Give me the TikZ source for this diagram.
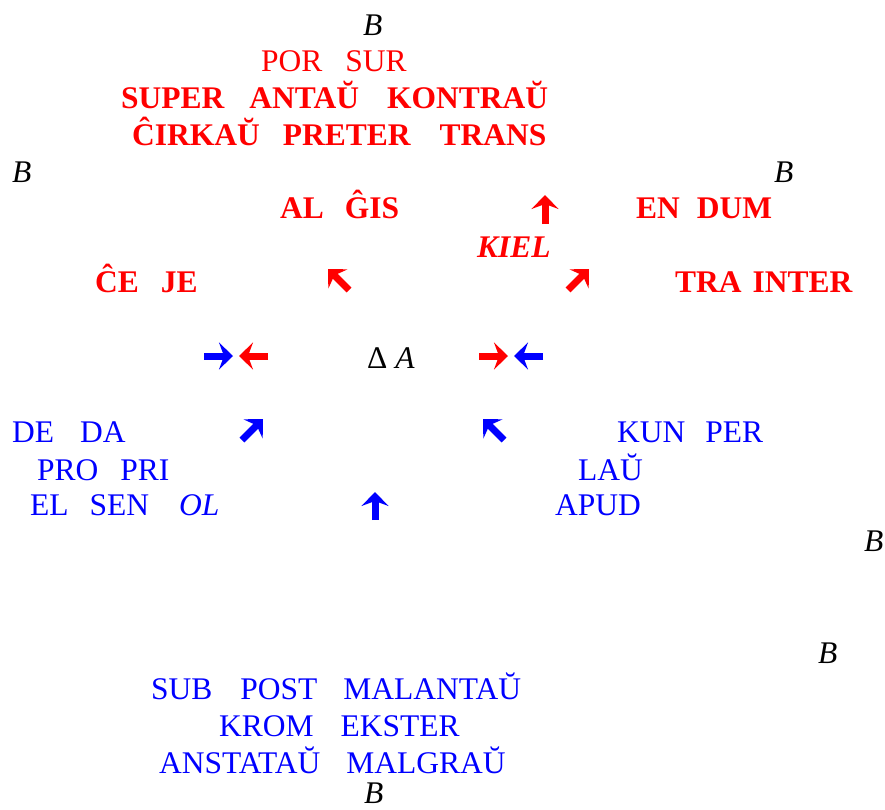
\documentclass[tikz,border=0pt]{standalone}
\usepackage{fontspec}
\setmainfont{Liberation Serif}
\usetikzlibrary{arrows.meta}
\definecolor{prepred}{RGB}{255,0,0}
\definecolor{prepblue}{RGB}{0,0,255}
\begin{document}
\begin{tikzpicture}[x=1pt,y=-1pt,
  word/.style={anchor=base west, inner sep=0pt, font=\fontsize{31.5}{36}\selectfont},
  redreg/.style={word, text=prepred},
  redbold/.style={word, text=prepred, font=\fontsize{31.5}{36}\selectfont\bfseries},
  bluereg/.style={word, text=prepblue},
  pole/.style={word, text=black, font=\fontsize{31.5}{36}\selectfont\itshape},
  fat/.style={line width=7pt, -{Stealth[length=14pt,width=27pt,inset=5pt]}}]
\useasboundingbox (0,0) rectangle (885,809);

% poles
\node[pole] (bTop)   at (363,35)  {B};
\node[pole] (bLeft)  at (12,182)  {B};
\node[pole] (bRight) at (774,182) {B};
\node[pole] (bEast)  at (864,551) {B};
\node[pole] (bLow)   at (818,663) {B};
\node[pole] (bBot)   at (364,803) {B};

% red group (above)
\node[redreg]  (porSur)  at (261,71)  {POR\hspace{23pt}SUR};
\node[redbold] (super)   at (121,108) {SUPER\hspace{25pt}ANTAŬ\hspace{28pt}KONTRAŬ};
\node[redbold] (cirkau)  at (132,145) {ĈIRKAŬ\hspace{23pt}PRETER\hspace{29pt}TRANS};
\node[redbold] (alGis)   at (280,218) {AL\hspace{21pt}ĜIS};
\node[redbold] (enDum)   at (636,218) {EN\hspace{17pt}DUM};
\node[redbold] (kiel)    at (477,257) {\itshape KIEL};
\node[redbold] (ceJe)    at (95,292)  {ĈE\hspace{22pt}JE};
\node[redbold] (traInter) at (675,292) {TRA\hspace{11pt}INTER};

% centre
\node[word] (deltaA) at (367,368) {Δ\hspace{8pt}\textit{A}};

% blue group (below)
\node[bluereg] (deDa)    at (12,442)  {DE\hspace{26pt}DA};
\node[bluereg] (kunPer)  at (617,442) {KUN\hspace{20pt}PER};
\node[bluereg] (proPri)  at (37,480)  {PRO\hspace{22pt}PRI};
\node[bluereg] (lau)     at (578,480) {LAŬ};
\node[bluereg] (elSen)   at (30,515)  {EL\hspace{21pt}SEN\hspace{30pt}\textit{OL}};
\node[bluereg] (apud)    at (555,515) {APUD};
\node[bluereg] (sub)     at (151,699) {SUB\hspace{28pt}POST\hspace{26pt}MALANTAŬ};
\node[bluereg] (krom)    at (219,736) {KROM\hspace{27pt}EKSTER};
\node[bluereg] (anstatau) at (159,773) {ANSTATAŬ\hspace{26pt}MALGRAŬ};

% red arrows
\draw[fat, prepred] (545,224) -- (545,195);
\draw[fat, prepred] (349,290) -- (328,269);
\draw[fat, prepred] (568,290) -- (589,269);
\draw[fat, prepred] (268,356) -- (239,356);
\draw[fat, prepred] (479,356) -- (508,356);

% blue arrows
\draw[fat, prepblue] (204,356) -- (233,356);
\draw[fat, prepblue] (543,356) -- (514,356);
\draw[fat, prepblue] (242,440) -- (263,419);
\draw[fat, prepblue] (504,440) -- (483,419);
\draw[fat, prepblue] (375,520) -- (375,492);
\end{tikzpicture}
\end{document}
